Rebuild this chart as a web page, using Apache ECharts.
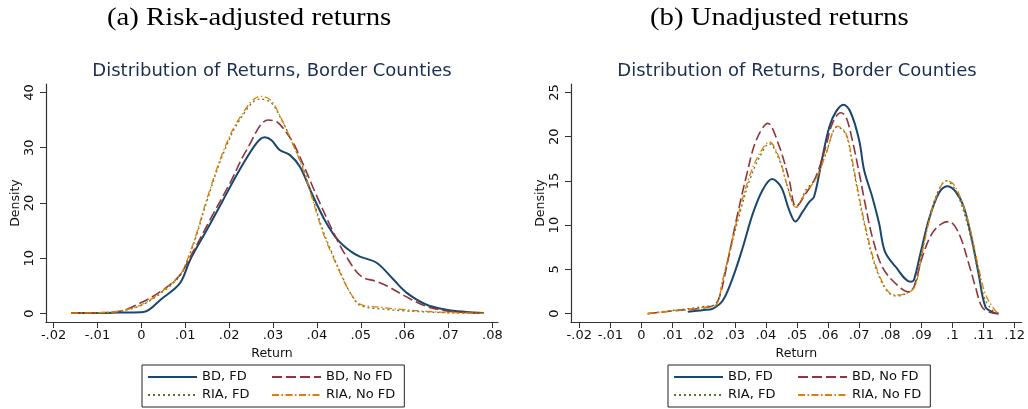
<!DOCTYPE html>
<html>
<head>
<meta charset="utf-8">
<script src="https://cdn.jsdelivr.net/npm/echarts@6/dist/echarts.min.js"></script>
<style>
html, body { margin: 0; background: #fff; }
#chart { width: 1028px; height: 409px; }
</style>
</head>
<body>
<div id="chart"></div>
<script>
// series names
var seriesNames = ['BD, FD', 'BD, No FD', 'RIA, FD', 'RIA, No FD'];

// tick labels
var xTicksA = [-0.02, -0.01, 0, 0.01, 0.02, 0.03, 0.04, 0.05, 0.06, 0.07, 0.08];
var yTicksA = [0, 10, 20, 30, 40];
var xTicksB = [-0.02, -0.01, 0, 0.01, 0.02, 0.03, 0.04, 0.05, 0.06, 0.07, 0.08, 0.09, 0.1, 0.11, 0.12];
var yTicksB = [0, 5, 10, 15, 20, 25];

// (a) risk-adjusted returns  [return, density]
var bdFdA = [[-0.016,0.1],[-0.01,0.1],[-0.005,0.2],[0.0005,0.3],[0.0045,2.6],[0.0088,5.5],[0.0111,9.7],
  [0.0149,15.1],[0.0186,20.5],[0.0224,26.0],[0.0262,30.8],[0.0281,31.9],[0.0296,31.4],[0.0315,29.6],
  [0.0338,28.7],[0.0361,26.6],[0.0388,21.8],[0.0418,16.9],[0.0448,13.3],[0.0478,11.2],[0.0498,10.3],
  [0.0536,9.2],[0.0574,6.2],[0.0604,3.8],[0.065,1.6],[0.0695,0.7],[0.074,0.3],[0.078,0.1]];
var bdNoFdA = [[-0.016,0.1],[-0.01,0.15],[-0.005,0.4],[0,2.0],[0.004,3.8],[0.0084,6.6],[0.012,11.5],
  [0.0156,16.9],[0.0202,23.6],[0.024,29.6],[0.0289,35.0],[0.031,34.6],[0.033,32.8],[0.035,30.3],
  [0.04,21.2],[0.0437,14.8],[0.0468,10.2],[0.05,6.8],[0.0536,5.8],[0.056,5.0],[0.06,3.2],[0.065,1.3],
  [0.07,0.45],[0.075,0.15],[0.078,0.1]];
var riaFdA = [[-0.016,0.1],[-0.01,0.1],[-0.005,0.4],[0,1.5],[0.005,4.0],[0.0088,6.8],[0.01,8.6],
  [0.0125,14.0],[0.015,20.5],[0.0186,28.8],[0.0224,35.0],[0.027,38.8],[0.0295,38.2],[0.0318,35.3],[0.0342,31.3],
  [0.0368,26.5],[0.0392,20.5],[0.0414,15.0],[0.0437,10.5],[0.0459,6.5],[0.0478,3.5],[0.0498,1.5],
  [0.055,0.8],[0.06,0.5],[0.065,0.3],[0.07,0.15],[0.078,0.05]];
var riaNoFdA = [[-0.016,0.1],[-0.01,0.15],[-0.005,0.45],[0,1.6],[0.005,4.2],[0.0088,7.0],[0.01,8.8],
  [0.0125,14.3],[0.015,20.9],[0.0186,29.2],[0.0224,35.4],[0.0272,39.3],[0.0295,38.6],[0.0318,35.4],[0.0342,31.2],
  [0.0368,26.2],[0.0392,20.1],[0.0414,14.6],[0.0437,10.2],[0.0459,6.3],[0.0478,3.5],[0.0498,1.7],
  [0.055,1.1],[0.06,0.7],[0.065,0.4],[0.07,0.2],[0.078,0.05]];

// (b) unadjusted returns  [return, density]
var bdFdB = [[0.0149,0.2],[0.02,0.4],[0.023,0.57],[0.0262,1.5],[0.0294,4.1],[0.0326,7.5],[0.0358,11.3],
  [0.039,14.0],[0.042,15.2],[0.0449,14.3],[0.0475,11.7],[0.0495,10.4],[0.0518,11.5],[0.0539,12.6],
  [0.0555,13.2],[0.0582,17.7],[0.0604,21.1],[0.0625,22.8],[0.0649,23.6],[0.0673,22.7],[0.07,19.6],
  [0.0716,16.2],[0.0742,13.2],[0.0764,10.2],[0.0783,7.0],[0.0817,5.3],[0.0865,3.6],[0.0876,3.8],
  [0.0897,6.8],[0.0924,10.6],[0.0956,13.6],[0.0983,14.4],[0.101,13.8],[0.1036,12.1],[0.1063,8.3],
  [0.1084,4.5],[0.1106,0.75],[0.113,0.15],[0.1148,0]];
var bdNoFdB = [[0.002,0],[0.01,0.3],[0.02,0.65],[0.0235,1.0],[0.0251,1.9],[0.0278,6.0],[0.0305,10.6],
  [0.0337,15.5],[0.0369,19.6],[0.0406,21.5],[0.0443,18.9],[0.0475,15.1],[0.0497,12.1],[0.0529,13.6],
  [0.0561,15.5],[0.0593,18.9],[0.0614,21.5],[0.0641,22.7],[0.0657,22.3],[0.0678,19.6],[0.07,15.9],
  [0.0721,12.1],[0.0742,8.7],[0.0774,5.3],[0.0817,3.4],[0.086,2.45],[0.0876,3.0],[0.0903,6.4],
  [0.0935,9.1],[0.0967,10.2],[0.0988,10.4],[0.102,9.1],[0.1052,5.7],[0.1074,3.0],[0.1095,0.75],
  [0.112,0.15],[0.1148,0]];
var riaFdB = [[0.002,0],[0.01,0.35],[0.02,0.8],[0.024,1.1],[0.0262,3.8],[0.0288,7.5],[0.0316,11.3],
  [0.0348,15.1],[0.038,17.7],[0.0411,19.2],[0.0443,17.4],[0.047,14.3],[0.0497,12.0],[0.0529,14.0],
  [0.0561,15.3],[0.0593,18.1],[0.063,21.1],[0.0657,20.3],[0.0678,17.0],[0.0694,14.0],[0.0716,10.2],
  [0.0742,6.4],[0.0769,3.8],[0.0796,2.3],[0.0822,2.0],[0.086,2.45],[0.0881,3.4],[0.0903,7.2],
  [0.0929,11.3],[0.0956,14.0],[0.098,15.0],[0.1004,14.3],[0.1031,12.1],[0.1058,8.7],[0.1084,4.5],
  [0.1106,1.5],[0.1138,0]];
var riaNoFdB = [[0.002,0],[0.01,0.3],[0.02,0.7],[0.024,1.0],[0.0262,3.9],[0.0288,7.8],[0.0316,11.8],
  [0.0348,15.6],[0.038,18.1],[0.0411,19.4],[0.0443,17.6],[0.047,14.3],[0.0497,12.0],[0.0529,13.8],
  [0.0561,15.2],[0.0593,18.0],[0.063,21.2],[0.0657,20.4],[0.0678,17.3],[0.0694,14.3],[0.0716,10.5],
  [0.0742,6.7],[0.0769,4.0],[0.0796,2.4],[0.0822,2.1],[0.086,2.4],[0.0881,3.2],[0.0903,6.9],
  [0.0929,11.0],[0.0956,13.9],[0.098,15.0],[0.1004,14.6],[0.1031,12.6],[0.1058,9.4],[0.1084,5.2],
  [0.1106,2.2],[0.1138,0.3],[0.115,0]];

var myChart = echarts.init(document.getElementById('chart'));

var FONT = 'DejaVu Sans';
var colors = ['#1a476f', '#90353b', '#55752f', '#e37e00'];
var lineStyles = [
  { width: 2, type: 'solid' },
  { width: 1.6, type: [10, 4] },
  { width: 1.3, type: [2, 3] },
  { width: 1.3, type: [7, 2.5, 1.5, 2.5] }
];

// Stata style tick labels: .02, -.01, 0
function stataFmt(v) {
  var s = String(Math.round(v * 1000) / 1000);
  return s.replace(/^(-?)0\./, '$1.');
}

function xAxisCfg(grid, min, max, ticks) {
  return {
    type: 'value', gridIndex: grid, min: min, max: max,
    name: 'Return', nameLocation: 'middle', nameGap: 21,
    nameTextStyle: { fontFamily: FONT, fontSize: 12.5, color: '#111' },
    axisLine: { show: true, onZero: false, lineStyle: { color: '#333', width: 1.2 } },
    axisTick: { show: true, length: 6, customValues: ticks, lineStyle: { color: '#333' } },
    axisLabel: { customValues: ticks, formatter: stataFmt, margin: 7,
      fontFamily: FONT, fontSize: 13, color: '#111' },
    splitLine: { show: false }
  };
}

function yAxisCfg(grid, min, max, ticks) {
  return {
    type: 'value', gridIndex: grid, min: min, max: max,
    name: 'Density', nameLocation: 'middle', nameGap: 24,
    nameTextStyle: { fontFamily: FONT, fontSize: 12.5, color: '#111' },
    axisLine: { show: true, onZero: false, lineStyle: { color: '#333', width: 1.2 } },
    axisTick: { show: true, length: 6, customValues: ticks, lineStyle: { color: '#333' } },
    axisLabel: { customValues: ticks, rotate: 90, margin: 10,
      fontFamily: FONT, fontSize: 13, color: '#111' },
    splitLine: { show: false }
  };
}

function makeSeries(data, axis) {
  return data.map(function (d, i) {
    return {
      name: seriesNames[i], type: 'line', data: d,
      xAxisIndex: axis, yAxisIndex: axis,
      smooth: 0.35, symbol: 'none', showSymbol: false,
      color: colors[i], lineStyle: lineStyles[i], z: 2 + i
    };
  });
}

function legendCfg(left) {
  return {
    data: seriesNames, left: left, top: 365, width: 250,
    orient: 'horizontal', align: 'left',
    itemWidth: 49, itemHeight: 14, itemGap: 4,
    padding: [5, 9, 5, 5],
    borderColor: '#222', borderWidth: 1, backgroundColor: '#fff',
    // hide the marker drawn on the legend line, keep only the line sample
    itemStyle: { opacity: 0, borderWidth: 0 },
    textStyle: { fontFamily: FONT, fontSize: 13, color: '#111', width: 65, lineHeight: 14 },
    selectedMode: false
  };
}

var titleStyle = { fontFamily: FONT, fontSize: 18, fill: '#1c2e52' };

var option = {
  animation: false,
  backgroundColor: '#fff',
  grid: [
    { left: 46, top: 84, width: 452, height: 238 },
    { left: 571, top: 84, width: 452, height: 238 }
  ],
  xAxis: [
    xAxisCfg(0, -0.02173, 0.08127, xTicksA),
    xAxisCfg(1, -0.02266, 0.12224, xTicksB)
  ],
  yAxis: [
    yAxisCfg(0, -1.52, 41.52, yTicksA),
    yAxisCfg(1, -0.95, 25.95, yTicksB)
  ],
  legend: [legendCfg(142), legendCfg(668)],
  graphic: [
    { type: 'text', left: 107, top: 6, scaleX: 1.15,
      style: { text: '(a) Risk-adjusted returns', fontFamily: 'Liberation Serif', fontSize: 25, fill: '#000' } },
    { type: 'text', left: 650, top: 6, scaleX: 1.15,
      style: { text: '(b) Unadjusted returns', fontFamily: 'Liberation Serif', fontSize: 25, fill: '#000' } },
    { type: 'text', x: 272, y: 71,
      style: echarts.util.extend({ text: 'Distribution of Returns, Border Counties', align: 'center', verticalAlign: 'middle' }, titleStyle) },
    { type: 'text', x: 797, y: 71,
      style: echarts.util.extend({ text: 'Distribution of Returns, Border Counties', align: 'center', verticalAlign: 'middle' }, titleStyle) }
  ],
  series: makeSeries([bdFdA, bdNoFdA, riaFdA, riaNoFdA], 0)
    .concat(makeSeries([bdFdB, bdNoFdB, riaFdB, riaNoFdB], 1))
};

myChart.setOption(option);
</script>
</body>
</html>
